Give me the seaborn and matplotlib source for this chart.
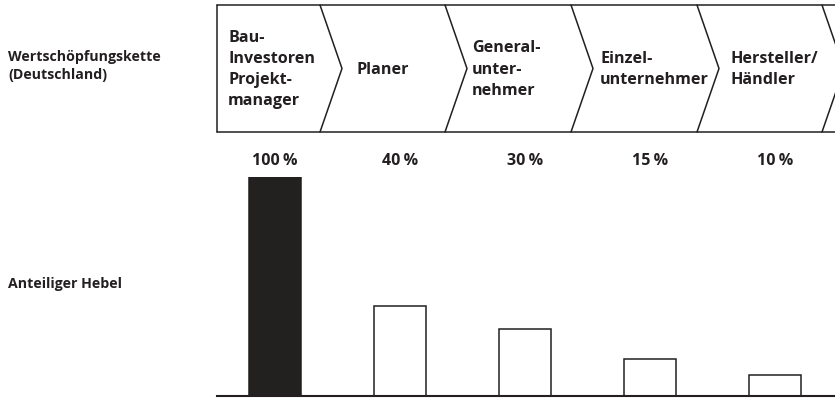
import matplotlib
matplotlib.use("Agg")
import matplotlib.pyplot as plt
import seaborn as sns
from matplotlib.lines import Line2D

# data
stages = ["Bau-\nInvestoren\nProjekt-\nmanager", "Planer", "General-\nunter-\nnehmer",
          "Einzel-\nunternehmer", "Hersteller/\nHändler"]
# bar heights as drawn in the picture (labels are the rounded shares)
hebel = [100, 41, 30.5, 17, 9.6]
hebel_labels = ["100\u2009%", "40\u2009%", "30\u2009%", "15\u2009%", "10\u2009%"]
bar_colors = ["#231f20", "white", "white", "white", "white"]

sns.set_style("white")
plt.rcParams["font.family"] = ["Open Sans", "DejaVu Sans"]
ink = "#231f20"

W, H = 835, 398
fig = plt.figure(figsize=(W / 100, H / 100), dpi=100)

# overlay in pixel coords for the value chain chevrons and row labels
ov = fig.add_axes([0, 0, 1, 1])
ov.set_xlim(0, W)
ov.set_ylim(H, 0)
ov.axis("off")

top, bot, mid = 5, 132, 68.5
tops = [320, 445, 571, 697, 822]
ov.add_line(Line2D([217, 835], [top, top], color=ink, lw=1.1))
ov.add_line(Line2D([217, 835], [bot, bot], color=ink, lw=1.1))
ov.add_line(Line2D([217, 217], [top, bot], color=ink, lw=1.1))
for xt in tops:
    ov.add_line(Line2D([xt, xt + 22, xt], [top, mid, bot], color=ink, lw=1.1))

text_x = [228, 357, 472, 600, 730]
for x, s in zip(text_x, stages):
    ov.text(x, mid + 1, s, ha="left", va="center", fontsize=11.6, fontweight="bold",
            color=ink, linespacing=1.42)

ov.text(8, 66, "Wertschöpfungskette\n(Deutschland)", ha="left", va="center",
        fontsize=10.2, fontweight="bold", color=ink, linespacing=1.45)
ov.text(8, 284, "Anteiliger Hebel", ha="left", va="center",
        fontsize=10.2, fontweight="bold", color=ink)

# bar chart
ax = fig.add_axes([217 / W, 2 / H, (W - 217) / W, 219 / H])
sns.barplot(x=list(range(len(hebel))), y=hebel, hue=list(range(len(hebel))),
            palette=bar_colors, legend=False, width=0.42, edgecolor=ink,
            linewidth=1.1, ax=ax)
ax.set_xlim(-0.464, 4.48)
ax.set_ylim(0, 100)
ax.set_xticks([])
ax.set_yticks([])
ax.set_xlabel("")
ax.set_ylabel("")
for side in ["top", "left", "right"]:
    ax.spines[side].set_visible(False)
ax.spines["bottom"].set_color(ink)
ax.spines["bottom"].set_linewidth(1.5)
ax.patch.set_alpha(0)

for i, lab in enumerate(hebel_labels):
    ax.text(i, 107.5, lab, ha="center", va="center", fontsize=11.5,
            fontweight="bold", color=ink, clip_on=False)

fig.savefig("out.png", dpi=100)
